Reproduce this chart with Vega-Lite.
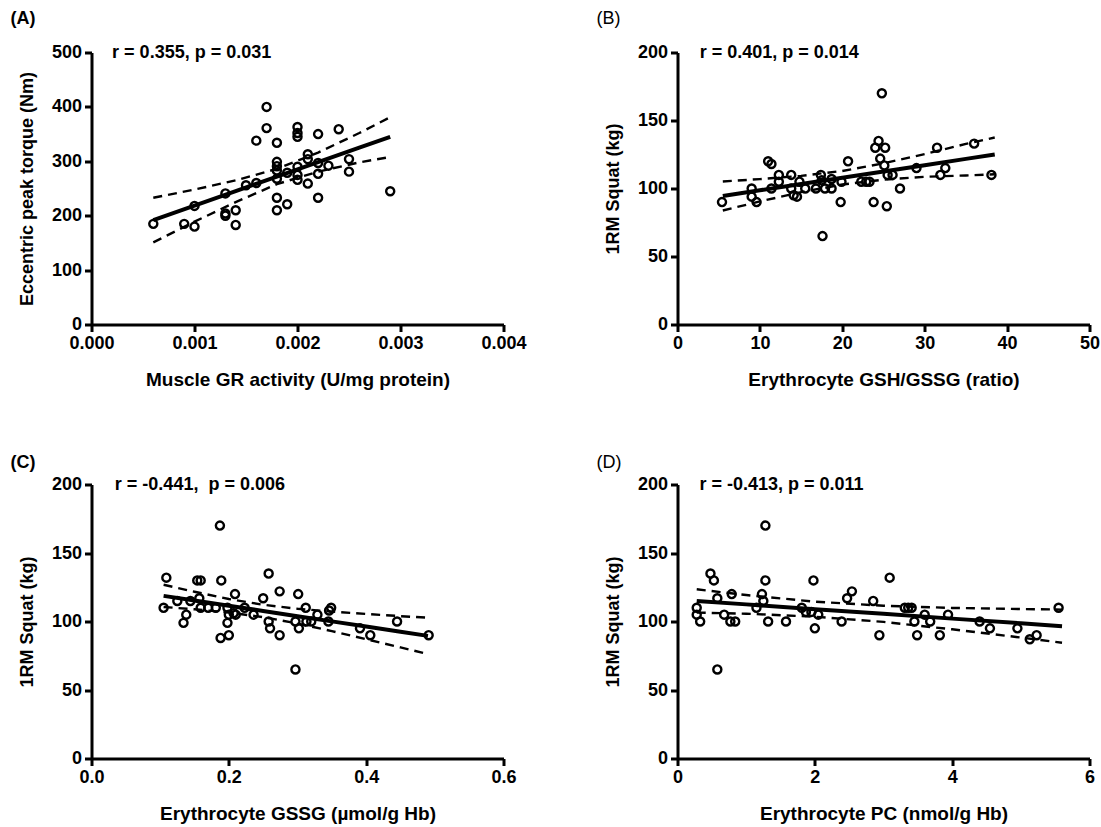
{
  "$schema": "https://vega.github.io/schema/vega-lite/v6.json",
  "padding": {"left": 9.5, "top": 9.5, "right": 0, "bottom": 0},
  "bounds": "flush",
  "columns": 2,
  "spacing": {"row": 160, "column": 174},
  "datasets": {
    "A": [
      {"x": 0.0006, "y": 185}, {"x": 0.0009, "y": 185}, {"x": 0.0010, "y": 180}, {"x": 0.0010, "y": 218},
      {"x": 0.0013, "y": 241}, {"x": 0.0013, "y": 204}, {"x": 0.0013, "y": 200}, {"x": 0.0014, "y": 210},
      {"x": 0.0014, "y": 183}, {"x": 0.0015, "y": 256}, {"x": 0.0016, "y": 260}, {"x": 0.0016, "y": 338},
      {"x": 0.0017, "y": 400}, {"x": 0.0017, "y": 361}, {"x": 0.0018, "y": 334}, {"x": 0.0018, "y": 299},
      {"x": 0.0018, "y": 291}, {"x": 0.0018, "y": 283}, {"x": 0.0018, "y": 268}, {"x": 0.0018, "y": 233},
      {"x": 0.0018, "y": 210}, {"x": 0.0019, "y": 221}, {"x": 0.0019, "y": 279}, {"x": 0.0020, "y": 363},
      {"x": 0.0020, "y": 352}, {"x": 0.0020, "y": 345}, {"x": 0.0020, "y": 290}, {"x": 0.0020, "y": 275},
      {"x": 0.0020, "y": 266}, {"x": 0.0021, "y": 313}, {"x": 0.0021, "y": 304}, {"x": 0.0021, "y": 259},
      {"x": 0.0022, "y": 350}, {"x": 0.0022, "y": 297}, {"x": 0.0022, "y": 277}, {"x": 0.0022, "y": 233},
      {"x": 0.0023, "y": 292}, {"x": 0.0024, "y": 359}, {"x": 0.0025, "y": 304}, {"x": 0.0025, "y": 281},
      {"x": 0.0029, "y": 245}
    ],
    "A_fit": [
      {"x": 0.0006, "fit": 192, "lo": 151, "hi": 233},
      {"x": 0.0010, "fit": 218.6, "lo": 189, "hi": 248},
      {"x": 0.0014, "fit": 245.2, "lo": 225, "hi": 265},
      {"x": 0.0018, "fit": 271.8, "lo": 258, "hi": 286},
      {"x": 0.0022, "fit": 298.4, "lo": 281, "hi": 316},
      {"x": 0.0026, "fit": 325, "lo": 298, "hi": 352},
      {"x": 0.0029, "fit": 345, "lo": 308, "hi": 381}
    ],
    "B": [
      {"x": 5.4, "y": 90}, {"x": 9.0, "y": 100}, {"x": 9.0, "y": 94}, {"x": 9.6, "y": 90},
      {"x": 11.0, "y": 120}, {"x": 11.4, "y": 118}, {"x": 11.4, "y": 100}, {"x": 12.3, "y": 110},
      {"x": 12.3, "y": 105}, {"x": 13.8, "y": 110}, {"x": 13.8, "y": 100}, {"x": 14.1, "y": 95},
      {"x": 14.5, "y": 94}, {"x": 14.8, "y": 105}, {"x": 15.5, "y": 100}, {"x": 16.8, "y": 100},
      {"x": 17.4, "y": 110}, {"x": 17.5, "y": 106}, {"x": 17.9, "y": 100}, {"x": 18.7, "y": 107},
      {"x": 18.7, "y": 100}, {"x": 19.8, "y": 90}, {"x": 19.9, "y": 105}, {"x": 20.7, "y": 120},
      {"x": 22.3, "y": 105}, {"x": 22.9, "y": 105}, {"x": 23.3, "y": 105}, {"x": 23.8, "y": 90},
      {"x": 24.4, "y": 135}, {"x": 24.0, "y": 130}, {"x": 25.2, "y": 130}, {"x": 24.6, "y": 122},
      {"x": 25.1, "y": 117}, {"x": 25.4, "y": 87}, {"x": 25.5, "y": 110}, {"x": 26.1, "y": 110},
      {"x": 27.0, "y": 100}, {"x": 29.0, "y": 115}, {"x": 31.5, "y": 130}, {"x": 31.9, "y": 110},
      {"x": 32.5, "y": 115}, {"x": 36.0, "y": 133}, {"x": 38.1, "y": 110}, {"x": 17.6, "y": 65},
      {"x": 24.8, "y": 170}
    ],
    "B_fit": [
      {"x": 5.5, "fit": 94.5, "lo": 83.8, "hi": 105.2},
      {"x": 10, "fit": 98.7, "lo": 90.5, "hi": 106.9},
      {"x": 15, "fit": 103.3, "lo": 97.3, "hi": 109.3},
      {"x": 20, "fit": 107.9, "lo": 102.9, "hi": 112.9},
      {"x": 25, "fit": 112.5, "lo": 106.5, "hi": 118.5},
      {"x": 30, "fit": 117.1, "lo": 108.6, "hi": 125.3},
      {"x": 35, "fit": 121.8, "lo": 109.6, "hi": 132.8},
      {"x": 38.5, "fit": 125.0, "lo": 110.5, "hi": 137.5}
    ],
    "C": [
      {"x": 0.109, "y": 132}, {"x": 0.105, "y": 110}, {"x": 0.125, "y": 115}, {"x": 0.138, "y": 105},
      {"x": 0.134, "y": 99}, {"x": 0.144, "y": 115}, {"x": 0.154, "y": 130}, {"x": 0.159, "y": 130},
      {"x": 0.157, "y": 117}, {"x": 0.159, "y": 110}, {"x": 0.170, "y": 110}, {"x": 0.181, "y": 110},
      {"x": 0.189, "y": 130}, {"x": 0.188, "y": 88}, {"x": 0.187, "y": 170}, {"x": 0.198, "y": 110},
      {"x": 0.200, "y": 90}, {"x": 0.198, "y": 99}, {"x": 0.200, "y": 105}, {"x": 0.207, "y": 106},
      {"x": 0.210, "y": 105}, {"x": 0.209, "y": 120}, {"x": 0.223, "y": 110}, {"x": 0.236, "y": 105},
      {"x": 0.250, "y": 117}, {"x": 0.258, "y": 135}, {"x": 0.258, "y": 100}, {"x": 0.260, "y": 95},
      {"x": 0.274, "y": 122}, {"x": 0.274, "y": 90}, {"x": 0.301, "y": 120}, {"x": 0.297, "y": 100},
      {"x": 0.302, "y": 95}, {"x": 0.297, "y": 65}, {"x": 0.312, "y": 110}, {"x": 0.313, "y": 100},
      {"x": 0.320, "y": 100}, {"x": 0.329, "y": 105}, {"x": 0.345, "y": 100}, {"x": 0.346, "y": 108},
      {"x": 0.349, "y": 110}, {"x": 0.391, "y": 95}, {"x": 0.406, "y": 90}, {"x": 0.445, "y": 100},
      {"x": 0.491, "y": 90}
    ],
    "C_fit": [
      {"x": 0.105, "fit": 118.7, "lo": 110.6, "hi": 126.8},
      {"x": 0.15, "fit": 115.3, "lo": 108.9, "hi": 121.7},
      {"x": 0.2, "fit": 111.5, "lo": 106.6, "hi": 116.4},
      {"x": 0.25, "fit": 107.7, "lo": 103.2, "hi": 112.2},
      {"x": 0.3, "fit": 103.9, "lo": 98.5, "hi": 109.3},
      {"x": 0.35, "fit": 100.1, "lo": 93.0, "hi": 107.2},
      {"x": 0.4, "fit": 96.3, "lo": 87.1, "hi": 105.5},
      {"x": 0.45, "fit": 92.5, "lo": 81.1, "hi": 103.9},
      {"x": 0.49, "fit": 89.5, "lo": 76.2, "hi": 102.8}
    ],
    "D": [
      {"x": 0.28, "y": 110}, {"x": 0.28, "y": 105}, {"x": 0.33, "y": 100}, {"x": 0.48, "y": 135},
      {"x": 0.53, "y": 130}, {"x": 0.58, "y": 117}, {"x": 0.58, "y": 65}, {"x": 0.68, "y": 105},
      {"x": 0.77, "y": 100}, {"x": 0.84, "y": 100}, {"x": 0.79, "y": 120}, {"x": 1.15, "y": 110},
      {"x": 1.23, "y": 120}, {"x": 1.25, "y": 115}, {"x": 1.28, "y": 130}, {"x": 1.28, "y": 170},
      {"x": 1.32, "y": 100}, {"x": 1.58, "y": 100}, {"x": 1.81, "y": 110}, {"x": 1.87, "y": 107},
      {"x": 1.95, "y": 107}, {"x": 2.05, "y": 105}, {"x": 1.98, "y": 130}, {"x": 2.0, "y": 95},
      {"x": 2.39, "y": 100}, {"x": 2.47, "y": 117}, {"x": 2.54, "y": 122}, {"x": 2.85, "y": 115},
      {"x": 2.94, "y": 90}, {"x": 3.09, "y": 132}, {"x": 3.31, "y": 110}, {"x": 3.36, "y": 110},
      {"x": 3.41, "y": 110}, {"x": 3.45, "y": 100}, {"x": 3.49, "y": 90}, {"x": 3.6, "y": 105},
      {"x": 3.68, "y": 100}, {"x": 3.82, "y": 90}, {"x": 3.94, "y": 105}, {"x": 4.4, "y": 100},
      {"x": 4.55, "y": 95}, {"x": 4.95, "y": 95}, {"x": 5.13, "y": 87}, {"x": 5.23, "y": 90},
      {"x": 5.55, "y": 110}
    ],
    "D_fit": [
      {"x": 0.28, "fit": 115, "lo": 106.5, "hi": 123.5},
      {"x": 1, "fit": 112.5, "lo": 105.7, "hi": 119.3},
      {"x": 2, "fit": 109.0, "lo": 103.5, "hi": 114.5},
      {"x": 3, "fit": 105.6, "lo": 99.7, "hi": 111.5},
      {"x": 4, "fit": 102.1, "lo": 94.3, "hi": 109.9},
      {"x": 5, "fit": 98.7, "lo": 88.3, "hi": 109.1},
      {"x": 5.6, "fit": 96.6, "lo": 84.5, "hi": 108.7}
    ]
  },
  "concat": [
    {
      "width": 412, "height": 272,
      "title": {"text": "(A)", "fontWeight": "bold", "offset": 16},
      "layer": [
        {"data": {"name": "A"}, "mark": {"type": "point", "shape": "circle", "filled": false, "color": "black", "strokeWidth": 2.4, "size": 65, "opacity": 1},
         "encoding": {
           "x": {"field": "x", "type": "quantitative", "scale": {"domain": [0, 0.004], "nice": false}, "axis": {"title": "Muscle GR activity (U/mg protein)", "values": [0, 0.001, 0.002, 0.003, 0.004], "format": ".3f"}},
           "y": {"field": "y", "type": "quantitative", "scale": {"domain": [0, 500], "nice": false}, "axis": {"title": "Eccentric peak torque (Nm)", "values": [0, 100, 200, 300, 400, 500], "format": "d"}}}},
        {"data": {"name": "A_fit"}, "mark": {"type": "line", "color": "black", "strokeWidth": 4}, "encoding": {"x": {"field": "x", "type": "quantitative"}, "y": {"field": "fit", "type": "quantitative"}}},
        {"data": {"name": "A_fit"}, "mark": {"type": "line", "color": "black", "strokeWidth": 2.4, "strokeDash": [9, 6]}, "encoding": {"x": {"field": "x", "type": "quantitative"}, "y": {"field": "hi", "type": "quantitative"}}},
        {"data": {"name": "A_fit"}, "mark": {"type": "line", "color": "black", "strokeWidth": 2.4, "strokeDash": [9, 6]}, "encoding": {"x": {"field": "x", "type": "quantitative"}, "y": {"field": "lo", "type": "quantitative"}}},
        {"data": {"values": [{}]}, "mark": {"type": "text", "align": "left", "baseline": "middle", "fontWeight": "bold", "fontSize": 18, "color": "black"},
         "encoding": {"x": {"datum": 0.0002}, "y": {"datum": 500}, "text": {"value": "r = 0.355, p = 0.031"}}}
      ]
    },
    {
      "width": 412, "height": 272,
      "title": {"text": "(B)", "fontWeight": "normal", "offset": 16},
      "layer": [
        {"data": {"name": "B"}, "mark": {"type": "point", "shape": "circle", "filled": false, "color": "black", "strokeWidth": 2.4, "size": 65, "opacity": 1},
         "encoding": {
           "x": {"field": "x", "type": "quantitative", "scale": {"domain": [0, 50], "nice": false}, "axis": {"title": "Erythrocyte GSH/GSSG (ratio)", "values": [0, 10, 20, 30, 40, 50], "format": "d"}},
           "y": {"field": "y", "type": "quantitative", "scale": {"domain": [0, 200], "nice": false}, "axis": {"title": "1RM Squat (kg)", "values": [0, 50, 100, 150, 200], "format": "d"}}}},
        {"data": {"name": "B_fit"}, "mark": {"type": "line", "color": "black", "strokeWidth": 4}, "encoding": {"x": {"field": "x", "type": "quantitative"}, "y": {"field": "fit", "type": "quantitative"}}},
        {"data": {"name": "B_fit"}, "mark": {"type": "line", "color": "black", "strokeWidth": 2.4, "strokeDash": [9, 6]}, "encoding": {"x": {"field": "x", "type": "quantitative"}, "y": {"field": "hi", "type": "quantitative"}}},
        {"data": {"name": "B_fit"}, "mark": {"type": "line", "color": "black", "strokeWidth": 2.4, "strokeDash": [9, 6]}, "encoding": {"x": {"field": "x", "type": "quantitative"}, "y": {"field": "lo", "type": "quantitative"}}},
        {"data": {"values": [{}]}, "mark": {"type": "text", "align": "left", "baseline": "middle", "fontWeight": "bold", "fontSize": 18, "color": "black"},
         "encoding": {"x": {"datum": 2.7}, "y": {"datum": 200}, "text": {"value": "r = 0.401, p = 0.014"}}}
      ]
    },
    {
      "width": 412, "height": 274,
      "title": {"text": "(C)", "fontWeight": "bold", "offset": 4},
      "layer": [
        {"data": {"name": "C"}, "mark": {"type": "point", "shape": "circle", "filled": false, "color": "black", "strokeWidth": 2.4, "size": 65, "opacity": 1},
         "encoding": {
           "x": {"field": "x", "type": "quantitative", "scale": {"domain": [0, 0.6], "nice": false}, "axis": {"title": "Erythrocyte GSSG (µmol/g Hb)", "values": [0, 0.2, 0.4, 0.6], "format": ".1f"}},
           "y": {"field": "y", "type": "quantitative", "scale": {"domain": [0, 200], "nice": false}, "axis": {"title": "1RM Squat (kg)", "values": [0, 50, 100, 150, 200], "format": "d"}}}},
        {"data": {"name": "C_fit"}, "mark": {"type": "line", "color": "black", "strokeWidth": 4}, "encoding": {"x": {"field": "x", "type": "quantitative"}, "y": {"field": "fit", "type": "quantitative"}}},
        {"data": {"name": "C_fit"}, "mark": {"type": "line", "color": "black", "strokeWidth": 2.4, "strokeDash": [9, 6]}, "encoding": {"x": {"field": "x", "type": "quantitative"}, "y": {"field": "hi", "type": "quantitative"}}},
        {"data": {"name": "C_fit"}, "mark": {"type": "line", "color": "black", "strokeWidth": 2.4, "strokeDash": [9, 6]}, "encoding": {"x": {"field": "x", "type": "quantitative"}, "y": {"field": "lo", "type": "quantitative"}}},
        {"data": {"values": [{}]}, "mark": {"type": "text", "align": "left", "baseline": "middle", "fontWeight": "bold", "fontSize": 18, "color": "black"},
         "encoding": {"x": {"datum": 0.034}, "y": {"datum": 200}, "text": {"value": "r = -0.441,\u00a0 p = 0.006"}}}
      ]
    },
    {
      "width": 412, "height": 274,
      "title": {"text": "(D)", "fontWeight": "normal", "offset": 4},
      "layer": [
        {"data": {"name": "D"}, "mark": {"type": "point", "shape": "circle", "filled": false, "color": "black", "strokeWidth": 2.4, "size": 65, "opacity": 1},
         "encoding": {
           "x": {"field": "x", "type": "quantitative", "scale": {"domain": [0, 6], "nice": false}, "axis": {"title": "Erythrocyte PC (nmol/g Hb)", "values": [0, 2, 4, 6], "format": "d"}},
           "y": {"field": "y", "type": "quantitative", "scale": {"domain": [0, 200], "nice": false}, "axis": {"title": "1RM Squat (kg)", "values": [0, 50, 100, 150, 200], "format": "d"}}}},
        {"data": {"name": "D_fit"}, "mark": {"type": "line", "color": "black", "strokeWidth": 4}, "encoding": {"x": {"field": "x", "type": "quantitative"}, "y": {"field": "fit", "type": "quantitative"}}},
        {"data": {"name": "D_fit"}, "mark": {"type": "line", "color": "black", "strokeWidth": 2.4, "strokeDash": [9, 6]}, "encoding": {"x": {"field": "x", "type": "quantitative"}, "y": {"field": "hi", "type": "quantitative"}}},
        {"data": {"name": "D_fit"}, "mark": {"type": "line", "color": "black", "strokeWidth": 2.4, "strokeDash": [9, 6]}, "encoding": {"x": {"field": "x", "type": "quantitative"}, "y": {"field": "lo", "type": "quantitative"}}},
        {"data": {"values": [{}]}, "mark": {"type": "text", "align": "left", "baseline": "middle", "fontWeight": "bold", "fontSize": 18, "color": "black"},
         "encoding": {"x": {"datum": 0.32}, "y": {"datum": 200}, "text": {"value": "r = -0.413, p = 0.011"}}}
      ]
    }
  ],
  "config": {
    "view": {"stroke": null},
    "font": "Liberation Sans",
    "axis": {
      "grid": false, "domainColor": "black", "domainWidth": 3, "tickColor": "black", "tickWidth": 3, "tickSize": 7,
      "labelFont": "Liberation Sans", "labelFontWeight": "bold", "labelFontSize": 18, "labelColor": "black", "labelPadding": 3,
      "labelFlush": false, "labelOverlap": false,
      "titleFont": "Liberation Sans", "titleFontWeight": "bold", "titleColor": "black"
    },
    "axisX": {"titlePadding": 18, "titleFontSize": 19},
    "axisY": {"titlePadding": 15, "titleFontSize": 18},
    "title": {"anchor": "start", "fontSize": 18, "font": "Liberation Sans", "color": "black", "frame": "bounds", "dx": -8}
  }
}
